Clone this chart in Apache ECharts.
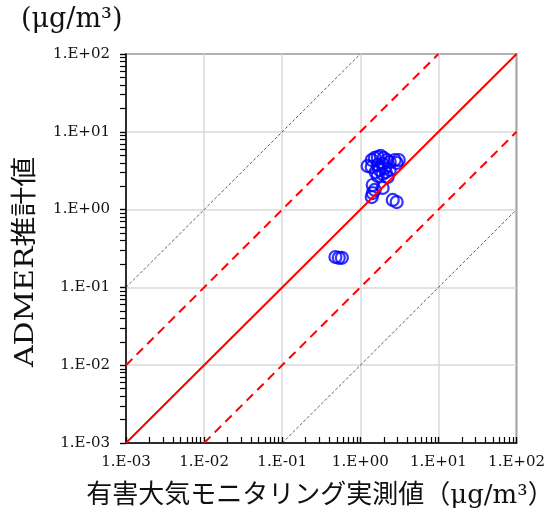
<!DOCTYPE html>
<html><head><meta charset="utf-8">
<script src="https://cdn.jsdelivr.net/npm/echarts@6/dist/echarts.min.js"></script>
<style>html,body{margin:0;padding:0;background:#fff}#c{width:548px;height:517px}</style>
</head><body><div id="c"></div>
<script>
// Data: measured (x) vs ADMER estimate (y), μg/m³
const measured = [1.24,1.40,1.53,1.67,1.82,1.99,2.18,1.40,1.67,1.93,2.38,2.75,3.10,2.92,1.57,1.77,2.11,2.05,2.38,1.67,1.93,2.24,1.44,1.53,1.93,1.44,1.40,2.60,2.92,0.48,0.53,0.58];
const estimated = [3.63,4.34,4.61,4.74,4.89,4.61,4.34,3.53,3.74,3.86,4.09,4.34,4.34,3.97,3.04,3.23,3.04,3.42,3.23,2.70,2.87,2.62,2.07,1.79,1.90,1.63,1.45,1.33,1.25,0.246,0.24,0.24];
const axisMin = 0.001, axisMax = 100;
const decades = [-3,-2,-1,0,1,2];
const ratioSolid = [1];
const ratioDashed = [10, 0.1];
const ratioDotted = [100, 0.01];

function tickLabel(v){
  const e = Math.round(Math.log10(v));
  return '1.E' + (e < 0 ? '-' : '+') + String(Math.abs(e)).padStart(2,'0');
}
const minorTicks = [];
decades.forEach(d => { for (let k = 1; k <= 9; k++) { const v = k*Math.pow(10,d); if (v <= axisMax*1.0001) minorTicks.push(v); } });

function ratioLine(r){
  const x0 = Math.max(axisMin, axisMin / r), x1 = Math.min(axisMax, axisMax / r);
  return [[x0, x0*r],[x1, x1*r]];
}

const serif = '"DejaVu Serif","Noto Sans CJK JP",serif';
const series = [{
  type:'scatter', data: measured.map((x,i)=>[x, estimated[i]]),
  symbol:'circle', symbolSize:12,
  itemStyle:{color:'rgba(0,0,0,0)', borderColor:'#0000ff', borderWidth:2.2},
  z:3
}];
ratioDotted.forEach(r => series.push({type:'line', data: ratioLine(r), symbol:'none', lineStyle:{color:'#333', width:0.8, type:[3,2]}, z:2}));
ratioDashed.forEach(r => series.push({type:'line', data: ratioLine(r), symbol:'none', lineStyle:{color:'#ff0000', width:2, type:[9,6]}, z:4}));
ratioSolid.forEach(r => series.push({type:'line', data: ratioLine(r), symbol:'none', lineStyle:{color:'#ff0000', width:2}, z:4}));

const baseAxis = {type:'log', logBase:10, min:axisMin, max:axisMax};
const chart = echarts.init(document.getElementById('c'));
chart.setOption({
  animation:false,
  grid:{left:126, top:54, right:31, bottom:74, show:true, borderColor:'#000', borderWidth:1.5, backgroundColor:'transparent'},
  xAxis:[Object.assign({}, baseAxis, {position:'bottom',
    axisLine:{show:true, lineStyle:{color:'#000', width:1.5}},
    axisTick:{show:true, inside:true, length:6, lineStyle:{color:'#000', width:1.2}},
    axisLabel:{formatter:tickLabel, color:'#111', fontSize:15, fontFamily:serif, margin:12},
    splitLine:{show:true, lineStyle:{color:'#d9d9d9', width:1.5}}
  }), Object.assign({}, baseAxis, {position:'bottom', offset:0,
    axisLine:{show:false},
    axisTick:{show:true, inside:true, length:6, customValues:minorTicks, lineStyle:{color:'#000', width:1.2}},
    axisLabel:{show:false}, splitLine:{show:false}
  })],
  yAxis:[Object.assign({}, baseAxis, {position:'left',
    axisLine:{show:true, lineStyle:{color:'#000', width:1.5}},
    axisTick:{show:true, inside:false, length:6, lineStyle:{color:'#000', width:1.2}},
    axisLabel:{formatter:tickLabel, color:'#111', fontSize:15, fontFamily:serif, margin:16},
    splitLine:{show:true, lineStyle:{color:'#d9d9d9', width:1.5}}
  }), Object.assign({}, baseAxis, {position:'left', offset:0,
    axisLine:{show:false},
    axisTick:{show:true, inside:false, length:6, customValues:minorTicks, lineStyle:{color:'#000', width:1.2}},
    axisLabel:{show:false}, splitLine:{show:false}
  })],
  graphic:[
    {type:'text', left:21, top:6, style:{text:'(μg/m³)', font:'27px "DejaVu Serif", serif', fill:'#111'}},
    {type:'text', x:320, y:496, style:{text:'有害大気モニタリング実測値（μg/m³）', font:'26px "DejaVu Serif","Noto Sans CJK JP", serif', fill:'#111', align:'center', verticalAlign:'middle'}},
    {type:'text', x:26, y:262, rotation:Math.PI/2, scaleX:1.15, style:{text:'ADMER推計値', font:'26px "DejaVu Serif","Noto Sans CJK JP", serif', fill:'#111', align:'center', verticalAlign:'middle'}}
  ],
  series: series
});
</script></body></html>
